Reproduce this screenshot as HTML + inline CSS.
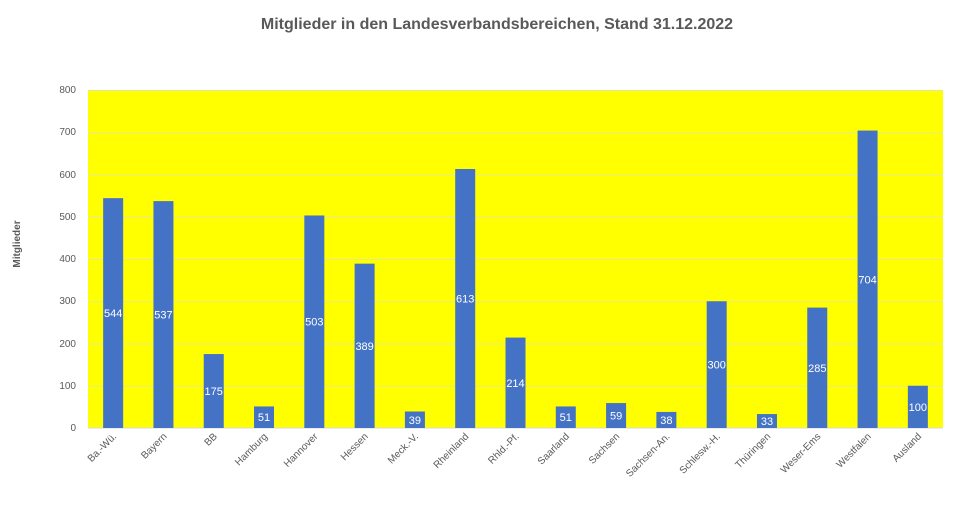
<!DOCTYPE html>
<html><head><meta charset="utf-8"><style>
body{margin:0;background:#fff;}
svg{display:block;font-family:"Liberation Sans",sans-serif;}
</style></head><body>
<svg width="953" height="511" xmlns="http://www.w3.org/2000/svg">
<rect width="953" height="511" fill="#fff"/>
<text x="497" y="29" text-anchor="middle" font-size="16" font-weight="bold" fill="#595959">Mitglieder in den Landesverbandsbereichen, Stand 31.12.2022</text>
<text transform="translate(20,244) rotate(-90)" text-anchor="middle" font-size="10" font-weight="bold" fill="#595959">Mitglieder</text>
<rect x="88" y="90" width="855" height="338" fill="#ffff00"/>
<g stroke="#e8e88a" stroke-width="1">
<line x1="88" x2="943" y1="90.5" y2="90.5"/><line x1="88" x2="943" y1="132.75" y2="132.75"/>
<line x1="88" x2="943" y1="175" y2="175"/><line x1="88" x2="943" y1="217.25" y2="217.25"/>
<line x1="88" x2="943" y1="259.5" y2="259.5"/><line x1="88" x2="943" y1="301.75" y2="301.75"/>
<line x1="88" x2="943" y1="344" y2="344"/><line x1="88" x2="943" y1="386.25" y2="386.25"/>
</g>
<line x1="88" x2="943" y1="428" y2="428" stroke="#d9d9d9"/>
<g font-size="10" fill="#595959" text-anchor="end">
<text x="76" y="93">800</text><text x="76" y="135">700</text><text x="76" y="178">600</text>
<text x="76" y="220">500</text><text x="76" y="262">400</text><text x="76" y="304">300</text>
<text x="76" y="347">200</text><text x="76" y="389">100</text><text x="76" y="431">0</text>
</g>
<g fill="#4472c4">
<rect x="103.15" y="198.16" width="20" height="229.84"/>
<rect x="153.44" y="201.12" width="20" height="226.88"/>
<rect x="203.74" y="354.06" width="20" height="73.94"/>
<rect x="254.03" y="406.45" width="20" height="21.55"/>
<rect x="304.32" y="215.48" width="20" height="212.52"/>
<rect x="354.62" y="263.65" width="20" height="164.35"/>
<rect x="404.91" y="411.52" width="20" height="16.48"/>
<rect x="455.21" y="169.01" width="20" height="258.99"/>
<rect x="505.5" y="337.58" width="20" height="90.42"/>
<rect x="555.79" y="406.45" width="20" height="21.55"/>
<rect x="606.09" y="403.07" width="20" height="24.93"/>
<rect x="656.38" y="411.94" width="20" height="16.06"/>
<rect x="706.68" y="301.25" width="20" height="126.75"/>
<rect x="756.97" y="414.06" width="20" height="13.94"/>
<rect x="807.26" y="307.59" width="20" height="120.41"/>
<rect x="857.56" y="130.56" width="20" height="297.44"/>
<rect x="907.85" y="385.75" width="20" height="42.25"/>
</g>
<g font-size="11" fill="#fff" text-anchor="middle">
<text x="113.15" y="317">544</text>
<text x="163.44" y="318.6">537</text>
<text x="213.74" y="395">175</text>
<text x="264.03" y="421.2">51</text>
<text x="314.32" y="325.7">503</text>
<text x="364.62" y="349.8">389</text>
<text x="414.91" y="423.8">39</text>
<text x="465.21" y="302.5">613</text>
<text x="515.5" y="386.8">214</text>
<text x="565.79" y="421.2">51</text>
<text x="616.09" y="419.5">59</text>
<text x="666.38" y="424">38</text>
<text x="716.68" y="368.6">300</text>
<text x="766.97" y="425">33</text>
<text x="817.26" y="371.8">285</text>
<text x="867.56" y="283.3">704</text>
<text x="917.85" y="410.9">100</text>
</g>
<g font-size="10" fill="#595959" text-anchor="end">
<text transform="translate(117,437) rotate(-45)">Ba.-Wü.</text>
<text transform="translate(167.4,437) rotate(-45)">Bayern</text>
<text transform="translate(217.7,437) rotate(-45)">BB</text>
<text transform="translate(268,437) rotate(-45)">Hamburg</text>
<text transform="translate(318.3,437) rotate(-45)">Hannover</text>
<text transform="translate(368.6,437) rotate(-45)">Hessen</text>
<text transform="translate(418.9,437) rotate(-45)">Meck.-V.</text>
<text transform="translate(469.2,437) rotate(-45)">Rheinland</text>
<text transform="translate(519.5,437) rotate(-45)">Rhld.-Pf.</text>
<text transform="translate(569.8,437) rotate(-45)">Saarland</text>
<text transform="translate(620.1,437) rotate(-45)">Sachsen</text>
<text transform="translate(670.4,437) rotate(-45)">Sachsen-An.</text>
<text transform="translate(720.7,437) rotate(-45)">Schlesw.-H.</text>
<text transform="translate(771,437) rotate(-45)">Thüringen</text>
<text transform="translate(821.3,437) rotate(-45)">Weser-Ems</text>
<text transform="translate(871.6,437) rotate(-45)">Westfalen</text>
<text transform="translate(921.9,437) rotate(-45)">Ausland</text>
</g>
</svg>
</body></html>
